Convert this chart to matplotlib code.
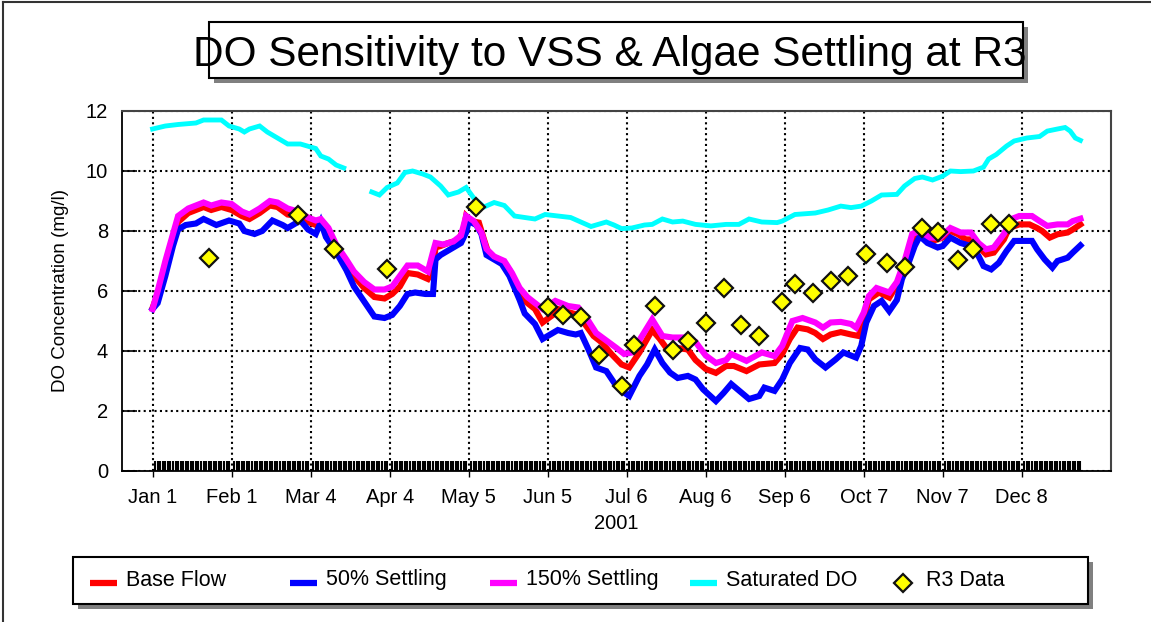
"""
    Sensibilidad del OD a la sedimentacion de VSS y algas en la estacion R3.
    Series diarias simuladas (leidas de la grafica) y datos medidos en campo.
"""
import numpy as np
import matplotlib.pyplot as plt
from matplotlib import font_manager
from matplotlib.lines import Line2D
from matplotlib.patches import Rectangle

# ---------------- # Datos (dia juliano desde 1 de enero de 2001) # ---------------- #
base_days = [0, 2, 5, 8, 10, 14, 20, 23, 27, 31, 35, 38, 42, 46, 49, 53, 57, 61, 64, 66,
             69, 72, 76, 79, 83, 87, 91, 94, 97, 100, 104, 108, 110, 111, 113, 116, 120,
             122, 123, 125, 128, 130, 132, 136, 140, 143, 146, 150, 153, 157, 159, 163,
             167, 170, 173, 176, 180, 184, 187, 191, 194, 196, 199, 202, 206, 210, 213,
             217, 221, 225, 228, 233, 238, 244, 247, 250, 253, 257, 260, 263, 266, 270,
             274, 277, 279, 281, 285, 289, 292, 295, 298, 300, 304, 306, 310, 313, 316,
             319, 322, 325, 327, 330, 334, 336, 340, 344, 347, 349, 352, 355, 359, 361, 364]
base_do = [5.44, 5.9, 6.9, 7.7, 8.3, 8.6, 8.8, 8.7, 8.8, 8.7, 8.5, 8.4, 8.6, 8.85, 8.8, 8.55,
           8.5, 8.3, 8.2, 8.3, 7.95, 7.45, 6.95, 6.5, 6.1, 5.8, 5.75, 5.9, 6.15, 6.6, 6.55,
           6.4, 6.7, 7.45, 7.5, 7.6, 7.7, 8.05, 8.5, 8.33, 8.28, 7.72, 7.2, 7.05, 6.7, 6.15,
           5.67, 5.4, 4.95, 5.2, 5.4, 5.3, 5.2, 4.85, 4.5, 4.3, 3.9, 3.55, 3.45, 3.95, 4.4,
           4.7, 4.4, 4.05, 4.1, 4.05, 3.7, 3.4, 3.27, 3.5, 3.5, 3.33, 3.55, 3.6, 3.9, 4.4,
           4.78, 4.72, 4.6, 4.4, 4.55, 4.63, 4.55, 4.5, 5.05, 5.72, 5.95, 5.78, 6.2, 6.85,
           7.6, 7.95, 7.78, 7.67, 7.78, 8.0, 7.89, 7.72, 7.72, 7.39, 7.22, 7.28, 7.72, 8.1,
           8.22, 8.22, 8.1, 8.0, 7.78, 7.89, 7.95, 8.05, 8.22]

set50_days = [0, 2, 5, 8, 10, 13, 17, 20, 25, 30, 34, 36, 40, 43, 47, 51, 53, 58, 61, 64,
              66, 68, 72, 76, 79, 83, 87, 91, 94, 97, 100, 103, 107, 110, 111, 113, 117,
              121, 123, 124, 127, 129, 131, 134, 137, 140, 144, 146, 150, 153, 157, 159,
              163, 166, 168, 171, 174, 178, 181, 184, 187, 191, 194, 197, 200, 203, 206,
              210, 213, 216, 221, 224, 227, 234, 238, 240, 244, 247, 250, 254, 257, 260,
              264, 268, 271, 276, 278, 280, 283, 286, 289, 292, 294, 296, 299, 301, 304,
              308, 310, 313, 317, 321, 324, 326, 329, 332, 335, 338, 342, 345, 347, 350,
              353, 355, 359, 361, 364]
set50_do = [5.4, 5.6, 6.5, 7.5, 8.05, 8.2, 8.25, 8.4, 8.2, 8.35, 8.25, 8.0, 7.9, 8.0, 8.35,
            8.2, 8.1, 8.35, 8.05, 7.9, 8.3, 7.8, 7.3, 6.7, 6.15, 5.65, 5.15, 5.1, 5.2, 5.5,
            5.9, 5.95, 5.9, 5.9, 7.05, 7.2, 7.4, 7.6, 7.95, 8.33, 8.2, 7.9, 7.2, 7.05, 6.9,
            6.5, 5.7, 5.25, 4.9, 4.4, 4.6, 4.7, 4.6, 4.55, 4.6, 4.05, 3.45, 3.33, 2.95, 2.67,
            2.5, 3.17, 3.55, 4.05, 3.6, 3.28, 3.1, 3.17, 3.05, 2.72, 2.33, 2.6, 2.9, 2.4,
            2.5, 2.78, 2.67, 3.05, 3.6, 4.1, 4.05, 3.72, 3.45, 3.72, 3.95, 3.78, 4.17, 4.95,
            5.5, 5.67, 5.33, 5.7, 6.4, 6.8, 7.5, 7.83, 7.6, 7.45, 7.5, 7.78, 7.6, 7.5, 7.17,
            6.83, 6.72, 6.94, 7.33, 7.67, 7.67, 7.67, 7.39, 7.05, 6.78, 7.0, 7.11, 7.28, 7.52]

set150_days = [0, 2, 5, 8, 10, 14, 20, 23, 27, 31, 35, 38, 42, 46, 49, 53, 57, 61, 64, 66,
               69, 72, 76, 79, 83, 87, 91, 94, 97, 100, 104, 108, 110, 111, 114, 118, 121,
               123, 126, 129, 131, 134, 138, 141, 144, 147, 150, 153, 158, 163, 167, 171,
               174, 178, 182, 185, 188, 192, 196, 200, 204, 209, 213, 217, 221, 225, 227,
               233, 239, 244, 247, 251, 255, 260, 263, 266, 270, 274, 276, 279, 281, 284,
               289, 292, 295, 298, 301, 305, 309, 313, 317, 321, 324, 327, 330, 334, 337,
               340, 345, 348, 351, 355, 359, 361, 364]
set150_do = [5.4, 6.0, 7.0, 7.9, 8.5, 8.75, 8.95, 8.85, 8.95, 8.9, 8.65, 8.55, 8.75, 9.0,
             8.95, 8.75, 8.65, 8.45, 8.35, 8.4, 8.1, 7.55, 7.05, 6.65, 6.3, 6.05, 6.05, 6.15,
             6.5, 6.85, 6.85, 6.65, 7.3, 7.6, 7.55, 7.65, 7.85, 8.5, 8.33, 7.95, 7.4, 7.15,
             7.0, 6.6, 6.1, 5.8, 5.6, 5.4, 5.67, 5.5, 5.45, 5.0, 4.6, 4.35, 4.1, 3.9, 3.95,
             4.5, 5.05, 4.5, 4.45, 4.45, 4.3, 3.85, 3.6, 3.7, 3.9, 3.67, 3.95, 3.83, 4.17,
             5.0, 5.1, 4.95, 4.78, 4.95, 4.97, 4.9, 4.78, 5.28, 5.83, 6.1, 5.95, 6.3, 7.0,
             7.9, 8.0, 7.78, 7.78, 8.1, 7.95, 7.95, 7.6, 7.39, 7.45, 7.9, 8.4, 8.5, 8.5, 8.33,
             8.17, 8.22, 8.22, 8.33, 8.41]

# OD de saturacion (sin datos entre mediados de marzo y finales de marzo)
sat_days = [0, 5, 10, 17, 20, 27, 30, 34, 36, 38, 42, 45, 47, 51, 53, 58, 62, 64, 66, 69,
            72, 75, 80, 86, 89, 92, 96, 99, 102, 106, 109, 113, 116, 120, 123, 126, 130,
            134, 138, 142, 146, 150, 154, 159, 164, 168, 172, 178, 181, 184, 188, 193, 196,
            200, 204, 208, 213, 219, 225, 230, 234, 239, 245, 247, 252, 260, 265, 270, 274,
            278, 282, 286, 292, 295, 299, 302, 306, 310, 313, 317, 322, 326, 328, 331, 335,
            338, 343, 348, 351, 355, 358, 360, 362, 364]
sat_do = [11.4, 11.5, 11.55, 11.6, 11.7, 11.7, 11.5, 11.4, 11.3, 11.4, 11.5, 11.3, 11.2,
          11.0, 10.9, 10.9, 10.8, 10.75, 10.5, 10.4, 10.2, 10.1, np.nan, 9.3, 9.2, 9.45,
          9.6, 9.95, 10.0, 9.9, 9.8, 9.5, 9.2, 9.3, 9.45, 9.1, 8.8, 8.95, 8.85, 8.5, 8.45,
          8.4, 8.55, 8.5, 8.45, 8.3, 8.15, 8.3, 8.2, 8.08, 8.1, 8.2, 8.22, 8.4, 8.3, 8.33,
          8.22, 8.17, 8.22, 8.22, 8.4, 8.3, 8.28, 8.33, 8.55, 8.6, 8.7, 8.83, 8.78, 8.83,
          9.0, 9.2, 9.22, 9.5, 9.75, 9.8, 9.7, 9.83, 10.0, 9.98, 10.0, 10.13, 10.4, 10.55,
          10.83, 11.0, 11.1, 11.15, 11.33, 11.4, 11.45, 11.33, 11.1, 11.02]

# Datos medidos en R3
r3_days = [22, 57, 71, 92, 127, 155, 161, 168, 175, 184, 189, 197, 204, 210, 217, 224,
           231, 238, 247, 252, 259, 266, 273, 280, 288, 295, 302, 308, 316, 322, 329, 336]
r3_do = [7.1, 8.52, 7.4, 6.75, 8.8, 5.47, 5.2, 5.15, 3.86, 2.85, 4.2, 5.5, 4.03, 4.33,
         4.92, 6.1, 4.87, 4.5, 5.63, 6.22, 5.92, 6.34, 6.5, 7.23, 6.92, 6.81, 8.11, 7.98,
         7.03, 7.41, 8.22, 8.22]

tick_days = [0, 31, 62, 93, 124, 155, 186, 217, 248, 279, 310, 341]
tick_labels = ['Jan 1', 'Feb 1', 'Mar 4', 'Apr 4', 'May 5', 'Jun 5', 'Jul 6', 'Aug 6',
               'Sep 6', 'Oct 7', 'Nov 7', 'Dec 8']
legend_labels = ['Base Flow', '50% Settling', '150% Settling', 'Saturated DO', 'R3 Data']

# ---------------- # Figura # ---------------- #
plt.rcParams['font.family'] = ['Liberation Sans', 'DejaVu Sans']
W, H = 1151, 622
fig = plt.figure(figsize=(W / 100, H / 100), dpi=100)


def fx(px):
    return px / W


def fy(py):
    return 1 - py / H


ax = fig.add_axes([fx(122), fy(471), (1111 - 122) / W, (471 - 111) / H])

# Series simuladas (estilos en el mismo orden que la leyenda)
styles = [dict(color='#FF0000', lw=4.4), dict(color='#0000FF', lw=4.4),
          dict(color='#FF00FF', lw=4.4), dict(color='#00FFFF', lw=3.5)]
series = [(base_days, base_do), (set50_days, set50_do),
          (set150_days, set150_do), (sat_days, sat_do)]
for (d, v), st in zip(series, styles):
    ax.plot(d, v, solid_joinstyle='miter', zorder=3, **st)

r3_style = dict(marker='D', ms=9.5, mfc='#FFFF00', mec='#111111', mew=1.6, ls='none')
ax.plot(r3_days, r3_do, zorder=5, **r3_style)

ax.set_xlim(-12, 376)
ax.set_ylim(0, 12)
ax.set_yticks(np.arange(0, 13, 2))
ax.set_xticks(tick_days)
ax.set_xticklabels(tick_labels)
ax.set_xticks(np.arange(0, 365), minor=True)

ax.grid(True, which='major', color='black', linestyle=(0, (1, 1.6)), lw=1.5, zorder=1)
ax.tick_params(axis='y', direction='in', length=11, width=1.2, pad=10, labelsize=14.5)
ax.tick_params(axis='x', which='major', direction='out', length=4, width=1, pad=8,
               labelsize=14.5)
ax.tick_params(axis='x', which='minor', direction='in', length=7, width=1.5)

for s in ['left', 'bottom']:
    ax.spines[s].set_color('black')
    ax.spines[s].set_linewidth(1.3)
for s in ['top', 'right']:
    ax.spines[s].set_color('#444444')
    ax.spines[s].set_linewidth(1.5)

ax.set_xlabel('2001', fontsize=14.5, labelpad=5)
ax.set_ylabel('DO Concentration (mg/l)', fontsize=13.5, labelpad=12)

# ---------------- # Titulo en caja con sombra # ---------------- #
fig.add_artist(Rectangle((fx(214), fy(83)), fx(1028) - fx(214), fy(27) - fy(83),
                         transform=fig.transFigure, facecolor='#808080', edgecolor='none'))
fig.add_artist(Rectangle((fx(209), fy(78)), fx(1023) - fx(209), fy(22) - fy(78),
                         transform=fig.transFigure, facecolor='white', edgecolor='black',
                         lw=1.5))
names = {f.name for f in font_manager.fontManager.ttflist}
if 'Liberation Sans Narrow' in names:
    fig.text(fx(610), fy(67), 'DO Sensitivity to VSS & Algae Settling at R3', ha='center',
             va='baseline', fontsize=37, family=['Liberation Sans Narrow'])
else:
    fig.text(fx(610), fy(66), 'DO Sensitivity to VSS & Algae Settling at R3', ha='center',
             va='baseline', fontsize=30.5)

# ---------------- # Leyenda en caja con sombra # ---------------- #
fig.add_artist(Rectangle((fx(78), fy(609)), fx(1093) - fx(78), fy(562) - fy(609),
                         transform=fig.transFigure, facecolor='#808080', edgecolor='none'))
fig.add_artist(Rectangle((fx(73), fy(604)), fx(1088) - fx(73), fy(557) - fy(604),
                         transform=fig.transFigure, facecolor='white', edgecolor='black',
                         lw=1.5))
for i, lab in enumerate(legend_labels):
    x0 = 90 + 200 * i
    if i < 4:
        fig.add_artist(Line2D([fx(x0), fx(x0 + 27)], [fy(583), fy(583)],
                              transform=fig.transFigure, color=styles[i]['color'], lw=4.5,
                              solid_capstyle='butt'))
    else:
        fig.add_artist(Line2D([fx(x0 + 13)], [fy(583)], transform=fig.transFigure,
                              **r3_style))
    fig.text(fx(x0 + 36), fy(580), lab, ha='left', va='center', fontsize=15.5)

# Marco exterior de la figura
fig.add_artist(Line2D([fx(3), fx(3)], [0, fy(2)], transform=fig.transFigure,
                      color='#333333', lw=1.5))
fig.add_artist(Line2D([fx(3), 1], [fy(2), fy(2)], transform=fig.transFigure,
                      color='#333333', lw=1.5))

fig.savefig('out.png', dpi=100)
